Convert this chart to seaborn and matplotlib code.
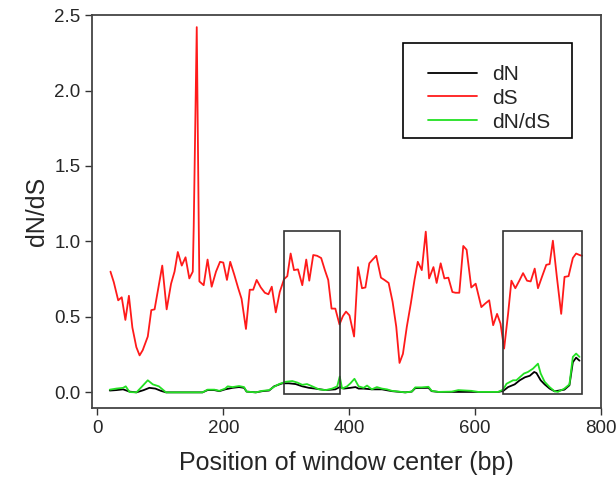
import pandas as pd
import matplotlib
matplotlib.use("Agg")
import matplotlib.pyplot as plt
from matplotlib.patches import Rectangle
import seaborn as sns

# dS (red)
ds_x = [20.7, 26, 33, 38.6, 44.4, 50, 55.5, 61.8, 67, 72, 80, 85.6, 90.8, 103, 110, 117,
        122.5, 127.7, 134, 140, 146, 151.5, 153, 157.8, 161, 162, 168.8, 175, 181.5, 188.4,
        194.8, 200, 205.8, 211, 217.4, 223.7, 229, 236, 242, 247.5, 253, 259.6, 266, 271.7,
        277, 283.4, 289.7, 296.5, 301.7, 307, 312.3, 318.7, 325.5, 331.8, 336.6, 342.9, 349,
        355.5, 361.4, 366.7, 372, 378, 384.6, 390, 395, 400.5, 407.8, 414, 420.4, 425.8, 432,
        437.3, 443, 450.5, 456, 462.7, 469, 474.8, 480, 485.4, 491.6, 498, 503.8, 509, 515.4,
        521.7, 527, 533.9, 539, 545.4, 551.3, 557.6, 564, 569, 575, 581.3, 586.6, 594, 601,
        610, 616.6, 622.5, 628.8, 635, 640.5, 646.2, 652.5, 657.8, 664, 671, 676.3, 682.6,
        688.4, 694.8, 700, 706.3, 713.2, 718.5, 723.7, 730, 736.9, 742.2, 748.6, 755.4,
        760.6, 766, 770]
ds_y = [0.80, 0.73, 0.61, 0.63, 0.48, 0.64, 0.43, 0.30, 0.245, 0.28, 0.37, 0.545, 0.55, 0.84,
        0.55, 0.72, 0.80, 0.93, 0.84, 0.895, 0.755, 0.80, 1.10, 2.42, 1.10, 0.735, 0.71, 0.88,
        0.70, 0.80, 0.865, 0.86, 0.745, 0.865, 0.78, 0.69, 0.62, 0.42, 0.68, 0.68, 0.745,
        0.695, 0.66, 0.65, 0.70, 0.53, 0.665, 0.75, 0.77, 0.92, 0.81, 0.815, 0.71, 0.88, 0.74,
        0.91, 0.905, 0.89, 0.81, 0.745, 0.555, 0.555, 0.45, 0.505, 0.535, 0.51, 0.37, 0.83,
        0.69, 0.695, 0.855, 0.88, 0.905, 0.76, 0.745, 0.725, 0.60, 0.435, 0.195, 0.255, 0.435,
        0.59, 0.745, 0.865, 0.81, 1.065, 0.755, 0.83, 0.725, 0.855, 0.755, 0.76, 0.665, 0.66,
        0.66, 0.97, 0.945, 0.695, 0.72, 0.565, 0.59, 0.61, 0.445, 0.52, 0.455, 0.29, 0.52,
        0.74, 0.69, 0.745, 0.79, 0.74, 0.735, 0.82, 0.69, 0.765, 0.845, 0.85, 1.005, 0.765,
        0.52, 0.765, 0.77, 0.89, 0.92, 0.91, 0.905]

# dN/dS (green)
dnds_x = [19.6, 30, 40.7, 45, 51, 62, 70, 80, 88, 97.6, 109, 167, 175, 185.8, 193.7, 203, 207,
          214.7, 225, 233, 237, 251.7, 262, 272.8, 280.7, 288.6, 299, 309.6, 317.6, 325.5, 333,
          341.3, 352, 362.5, 373, 381, 385, 388.8, 396.7, 402, 408.4, 415, 423, 428.4, 436,
          444, 452, 460, 468, 478.5, 489, 499.5, 505, 515, 526, 531, 541.8, 563, 573.4, 594.5,
          605, 636.7, 644.6, 650, 655, 660.4, 665.6, 671, 677.8, 684, 692, 700, 704.3, 710.6,
          718.5, 726.4, 731.6, 742, 750, 755.4, 760.6, 766]
dnds_y = [0.018, 0.025, 0.03, 0.04, 0.002, 0.0, 0.035, 0.08, 0.053, 0.04, 0.0, 0.0, 0.018,
          0.018, 0.01, 0.025, 0.04, 0.035, 0.042, 0.035, 0.005, 0.0, 0.01, 0.015, 0.037, 0.055,
          0.07, 0.075, 0.065, 0.05, 0.055, 0.04, 0.02, 0.015, 0.025, 0.04, 0.105, 0.025, 0.04,
          0.06, 0.09, 0.04, 0.03, 0.045, 0.02, 0.035, 0.025, 0.02, 0.01, 0.005, 0.0, 0.005,
          0.033, 0.033, 0.037, 0.01, 0.003, 0.005, 0.015, 0.01, 0.003, 0.003, 0.018, 0.057,
          0.068, 0.08, 0.08, 0.10, 0.125, 0.135, 0.157, 0.19, 0.125, 0.07, 0.035, 0.007, 0.003,
          0.025, 0.053, 0.235, 0.257, 0.235]

# dN (black)
dn_x = [19.6, 30, 40.7, 51, 62, 73.5, 82.5, 92, 101, 109, 167, 175, 185.8, 193.7, 203, 214.7,
        225, 233, 237, 251.7, 262, 272.8, 280.7, 294, 304, 315, 325.5, 336, 346, 362.5, 378,
        385, 391.5, 402, 410, 415, 423, 436, 452, 468, 489, 499.5, 505, 526, 531, 541.8, 605,
        636.7, 644.6, 652.5, 663, 671, 679.3, 687, 694, 697.6, 704.3, 710.6, 718.5, 726.4,
        742, 750, 755.4, 760.6, 766]
dn_y = [0.012, 0.015, 0.02, 0.005, 0.0, 0.015, 0.03, 0.025, 0.01, 0.0, 0.0, 0.015, 0.015,
        0.008, 0.02, 0.03, 0.035, 0.03, 0.005, 0.0, 0.008, 0.012, 0.04, 0.06, 0.06, 0.055,
        0.04, 0.03, 0.025, 0.015, 0.02, 0.035, 0.025, 0.03, 0.035, 0.025, 0.025, 0.02, 0.02,
        0.008, 0.0, 0.005, 0.028, 0.03, 0.008, 0.003, 0.003, 0.003, 0.009, 0.035, 0.053, 0.08,
        0.10, 0.11, 0.135, 0.128, 0.08, 0.053, 0.025, 0.007, 0.018, 0.047, 0.20, 0.23, 0.21]

# highlighted regions (x from, x to, y from, y to)
boxes = [(296.5, 386, -0.013, 1.07), (644.6, 770, -0.01, 1.07)]

series = ["dN", "dS", "dN/dS"]
colors = {"dN": "black", "dS": "#ff1a1a", "dN/dS": "#22e022"}

df = pd.concat([
    pd.DataFrame({"pos": dn_x, "value": dn_y, "series": "dN"}),
    pd.DataFrame({"pos": ds_x, "value": ds_y, "series": "dS"}),
    pd.DataFrame({"pos": dnds_x, "value": dnds_y, "series": "dN/dS"}),
])

sns.set_style("ticks")
plt.rcParams["font.family"] = ["Liberation Sans", "DejaVu Sans"]

fig = plt.figure(figsize=(6.16, 4.78), dpi=100)
ax = fig.add_axes([0.150, 0.146, 0.8255, 0.8225])

sns.lineplot(data=df, x="pos", y="value", hue="series", hue_order=series,
             palette=colors, estimator=None, sort=False, linewidth=1.3, ax=ax)

for x0, x1, y0, y1 in boxes:
    ax.add_patch(Rectangle((x0, y0), x1 - x0, y1 - y0, fill=False,
                           edgecolor="#333333", linewidth=1.2, zorder=3))

ax.set_xlim(-8, 800)
ax.set_ylim(-0.105, 2.5)
ax.set_xticks([0, 200, 400, 600, 800])
ax.set_yticks([0.0, 0.5, 1.0, 1.5, 2.0, 2.5])
ax.set_yticklabels(["0.0", "0.5", "1.0", "1.5", "2.0", "2.5"])
ax.tick_params(labelsize=13.5, direction="out", length=5, width=1.0, color="#333333")
ax.set_xlabel("Position of window center (bp)", fontsize=18, labelpad=10)
ax.set_ylabel("dN/dS", fontsize=18)

for sp in ax.spines.values():
    sp.set_visible(True)
    sp.set_color("#444444")
    sp.set_linewidth(1.3)

# legend entries without their own frame, boxed like the original
leg = ax.legend(loc="upper left", bbox_to_anchor=(0.66, 0.873), borderaxespad=0,
                fontsize=15, frameon=False, handlelength=2.35, handletextpad=0.75,
                borderpad=0, labelspacing=0.23, title=None)
for line in leg.get_lines():
    line.set_linewidth(1.3)
ax.add_patch(Rectangle((0.6106, 0.687), 0.943 - 0.6106, 0.9288 - 0.687,
                       transform=ax.transAxes, fill=False, edgecolor="black",
                       linewidth=1.2, zorder=4))

fig.savefig("out.png", dpi=100)
